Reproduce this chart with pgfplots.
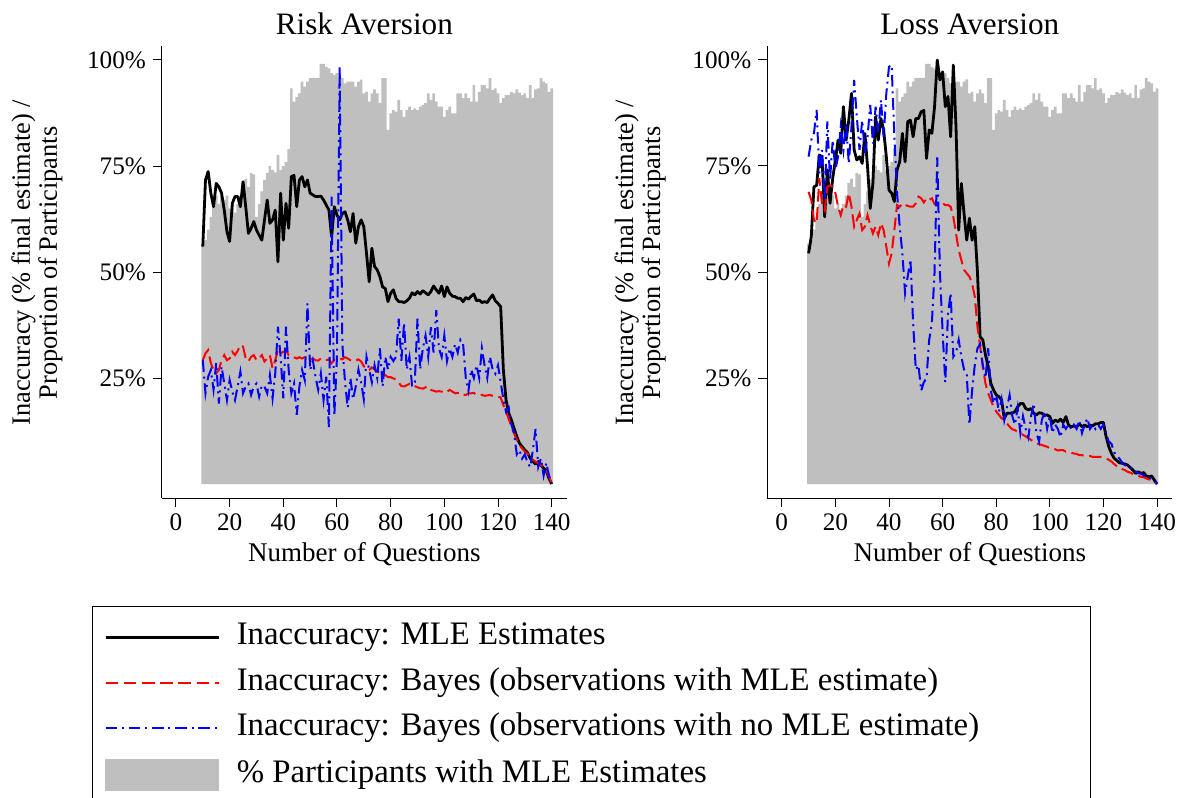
\documentclass[border=0pt]{standalone}
\usepackage{fontspec}
\setmainfont{Liberation Serif}
\usepackage{pgfplots}
\usepackage{pgfplotstable}
\pgfplotsset{compat=1.18}
\definecolor{barfill}{RGB}{191,191,191}

\pgfplotstableread{
q g
10 0.567
11 0.575
12 0.600
13 0.630
14 0.660
15 0.680
16 0.660
17 0.690
18 0.670
19 0.680
20 0.650
21 0.660
22 0.640
23 0.660
24 0.680
25 0.710
26 0.720
27 0.700
28 0.733
29 0.730
30 0.630
31 0.660
32 0.690
33 0.717
34 0.733
35 0.750
36 0.740
37 0.735
38 0.776
39 0.740
40 0.750
41 0.760
42 0.790
43 0.933
44 0.902
45 0.913
46 0.921
47 0.949
48 0.937
49 0.949
50 0.957
51 0.958
52 0.958
53 0.958
54 0.991
55 0.991
56 0.984
57 0.980
58 0.969
59 0.965
60 0.969
61 0.969
62 0.957
63 0.945
64 0.949
65 0.949
66 0.949
67 0.937
68 0.949
69 0.954
70 0.921
71 0.925
72 0.902
73 0.921
74 0.931
75 0.921
76 0.898
77 0.957
78 0.957
79 0.835
80 0.874
81 0.882
82 0.878
83 0.906
84 0.882
85 0.866
86 0.882
87 0.890
88 0.882
89 0.886
90 0.882
91 0.890
92 0.894
93 0.898
94 0.921
95 0.906
96 0.921
97 0.902
98 0.890
99 0.890
100 0.866
101 0.882
102 0.890
103 0.874
104 0.874
105 0.921
106 0.921
107 0.910
108 0.921
109 0.910
110 0.902
111 0.941
112 0.902
113 0.925
114 0.941
115 0.941
116 0.933
117 0.957
118 0.929
119 0.933
120 0.921
121 0.899
122 0.910
123 0.917
124 0.917
125 0.925
126 0.921
127 0.931
128 0.923
129 0.917
130 0.921
131 0.910
132 0.941
133 0.910
134 0.931
135 0.933
136 0.957
137 0.949
138 0.945
139 0.925
140 0.933
141 0.933
}\sharetab

\pgfplotstableread{
q mle bm bn
10 0.560 0.292 0.292
11 0.717 0.308 0.214
12 0.737 0.316 0.253
13 0.686 0.285 0.269
14 0.654 0.269 0.222
15 0.709 0.261 0.285
16 0.701 0.269 0.190
17 0.686 0.292 0.277
18 0.646 0.304 0.237
19 0.595 0.292 0.198
20 0.572 0.296 0.245
21 0.662 0.312 0.218
22 0.678 0.304 0.198
23 0.678 0.314 0.230
24 0.654 0.328 0.265
25 0.713 0.324 0.214
26 0.654 0.296 0.230
27 0.591 0.289 0.237
28 0.603 0.300 0.210
29 0.619 0.304 0.230
30 0.599 0.292 0.237
31 0.587 0.296 0.206
32 0.575 0.304 0.233
33 0.623 0.289 0.230
34 0.670 0.296 0.214
35 0.615 0.304 0.257
36 0.623 0.273 0.202
37 0.646 0.292 0.261
38 0.524 0.316 0.371
39 0.686 0.308 0.300
40 0.575 0.312 0.202
41 0.662 0.316 0.371
42 0.603 0.304 0.269
43 0.725 0.304 0.214
44 0.728 0.299 0.237
45 0.654 0.296 0.163
46 0.717 0.299 0.230
47 0.725 0.296 0.269
48 0.701 0.299 0.245
49 0.717 0.292 0.426
50 0.686 0.294 0.269
51 0.682 0.296 0.292
52 0.678 0.292 0.253
53 0.678 0.291 0.222
54 0.679 0.296 0.261
55 0.670 0.292 0.198
56 0.658 0.292 0.253
57 0.646 0.294 0.134
58 0.583 0.285 0.678
59 0.654 0.292 0.160
60 0.634 0.292 0.300
61 0.623 0.296 0.985
62 0.638 0.294 0.330
63 0.642 0.299 0.240
64 0.623 0.296 0.180
65 0.595 0.292 0.250
66 0.638 0.289 0.200
67 0.568 0.291 0.230
68 0.607 0.294 0.270
69 0.623 0.289 0.240
70 0.607 0.278 0.200
71 0.544 0.270 0.300
72 0.477 0.269 0.270
73 0.556 0.275 0.240
74 0.513 0.270 0.280
75 0.505 0.265 0.250
76 0.489 0.262 0.320
77 0.465 0.259 0.230
78 0.461 0.257 0.300
79 0.430 0.252 0.270
80 0.450 0.252 0.300
81 0.458 0.249 0.290
82 0.438 0.247 0.300
83 0.430 0.239 0.390
84 0.430 0.231 0.290
85 0.428 0.230 0.380
86 0.432 0.233 0.270
87 0.438 0.236 0.300
88 0.451 0.236 0.230
89 0.446 0.231 0.240
90 0.454 0.228 0.390
91 0.448 0.226 0.270
92 0.456 0.225 0.320
93 0.451 0.228 0.350
94 0.446 0.230 0.300
95 0.454 0.222 0.370
96 0.467 0.220 0.310
97 0.458 0.218 0.410
98 0.450 0.219 0.320
99 0.467 0.218 0.300
100 0.442 0.215 0.350
101 0.465 0.218 0.290
102 0.450 0.222 0.320
103 0.443 0.218 0.300
104 0.442 0.214 0.330
105 0.438 0.215 0.310
106 0.438 0.215 0.340
107 0.430 0.210 0.330
108 0.440 0.210 0.250
109 0.436 0.214 0.220
110 0.443 0.214 0.270
111 0.448 0.215 0.250
112 0.432 0.210 0.280
113 0.434 0.210 0.250
114 0.428 0.210 0.320
115 0.430 0.208 0.280
116 0.428 0.209 0.250
117 0.438 0.210 0.300
118 0.446 0.208 0.270
119 0.432 0.206 0.260
120 0.426 0.206 0.280
121 0.418 0.204 0.240
122 0.269 0.186 0.200
123 0.198 0.171 0.170
124 0.167 0.153 0.180
125 0.151 0.135 0.140
126 0.131 0.119 0.120
127 0.112 0.104 0.070
128 0.096 0.092 0.080
129 0.088 0.084 0.060
130 0.080 0.076 0.070
131 0.074 0.072 0.050
132 0.061 0.064 0.040
133 0.053 0.057 0.080
134 0.047 0.053 0.130
135 0.053 0.049 0.040
136 0.045 0.045 0.060
137 0.037 0.039 0.020
138 0.031 0.033 0.050
139 0.013 0.017 0.020
140 0.000 0.002 0.000
}\risktab

\pgfplotstableread{
q mle bm bn
10 0.544 0.689 0.772
11 0.583 0.670 0.811
12 0.701 0.623 0.827
13 0.704 0.615 0.882
14 0.776 0.721 0.733
15 0.772 0.662 0.788
16 0.630 0.646 0.670
17 0.741 0.701 0.855
18 0.662 0.704 0.717
19 0.721 0.701 0.811
20 0.764 0.686 0.741
21 0.811 0.654 0.772
22 0.780 0.634 0.843
23 0.890 0.658 0.788
24 0.811 0.654 0.851
25 0.858 0.686 0.756
26 0.921 0.654 0.843
27 0.788 0.607 0.953
28 0.764 0.623 0.866
29 0.772 0.638 0.788
30 0.756 0.599 0.858
31 0.827 0.607 0.780
32 0.748 0.634 0.819
33 0.650 0.611 0.894
34 0.709 0.591 0.803
35 0.866 0.607 0.890
36 0.811 0.587 0.831
37 0.862 0.615 0.906
38 0.835 0.599 0.819
39 0.772 0.560 0.921
40 0.693 0.520 0.984
41 0.686 0.544 0.988
42 0.666 0.599 0.819
43 0.741 0.658 0.686
44 0.760 0.654 0.607
45 0.827 0.662 0.544
46 0.760 0.658 0.450
47 0.855 0.656 0.490
48 0.858 0.654 0.530
49 0.819 0.654 0.380
50 0.862 0.662 0.270
51 0.862 0.678 0.280
52 0.878 0.674 0.220
53 0.881 0.664 0.240
54 0.768 0.674 0.250
55 0.835 0.670 0.340
56 0.827 0.674 0.380
57 0.890 0.660 0.500
58 1.000 0.662 0.770
59 0.953 0.664 0.500
60 0.972 0.662 0.360
61 0.890 0.658 0.240
62 0.914 0.658 0.400
63 0.819 0.654 0.450
64 0.988 0.630 0.300
65 0.843 0.591 0.310
66 0.599 0.552 0.340
67 0.709 0.528 0.300
68 0.638 0.505 0.270
69 0.575 0.497 0.260
70 0.627 0.489 0.140
71 0.575 0.473 0.220
72 0.607 0.442 0.280
73 0.500 0.371 0.320
74 0.347 0.324 0.330
75 0.340 0.277 0.280
76 0.304 0.237 0.250
77 0.277 0.214 0.320
78 0.237 0.198 0.220
79 0.222 0.182 0.190
80 0.210 0.171 0.210
81 0.206 0.163 0.170
82 0.198 0.155 0.200
83 0.155 0.151 0.150
84 0.167 0.143 0.180
85 0.167 0.135 0.210
86 0.167 0.129 0.160
87 0.171 0.127 0.140
88 0.182 0.123 0.180
89 0.190 0.119 0.120
90 0.190 0.116 0.160
91 0.178 0.112 0.130
92 0.175 0.108 0.110
93 0.178 0.104 0.160
94 0.167 0.100 0.190
95 0.163 0.096 0.120
96 0.168 0.094 0.100
97 0.167 0.092 0.150
98 0.163 0.090 0.170
99 0.163 0.088 0.130
100 0.159 0.084 0.160
101 0.143 0.084 0.120
102 0.151 0.082 0.140
103 0.147 0.079 0.130
104 0.153 0.080 0.110
105 0.145 0.080 0.140
106 0.159 0.076 0.130
107 0.139 0.074 0.140
108 0.135 0.074 0.130
109 0.137 0.072 0.140
110 0.135 0.071 0.130
111 0.142 0.068 0.150
112 0.135 0.068 0.120
113 0.139 0.066 0.140
114 0.135 0.066 0.155
115 0.139 0.066 0.130
116 0.137 0.064 0.140
117 0.142 0.064 0.130
118 0.142 0.064 0.140
119 0.145 0.064 0.130
120 0.145 0.063 0.140
121 0.112 0.061 0.120
122 0.088 0.057 0.100
123 0.072 0.053 0.095
124 0.061 0.047 0.075
125 0.055 0.042 0.065
126 0.050 0.037 0.060
127 0.049 0.035 0.050
128 0.047 0.033 0.045
129 0.045 0.029 0.040
130 0.039 0.027 0.040
131 0.033 0.024 0.030
132 0.025 0.021 0.030
133 0.029 0.019 0.025
134 0.025 0.017 0.025
135 0.027 0.016 0.020
136 0.019 0.013 0.018
137 0.017 0.011 0.015
138 0.019 0.009 0.012
139 0.009 0.006 0.008
140 0.000 0.000 0.000
}\losstab

\pgfplotsset{
  panel/.style={
    scale only axis, height=226pt,
    ymin=-0.033, ymax=1.033,
    axis lines=left,
    axis line style={-, line width=0.5pt, black},
    tick align=outside,
    major tick length=4.5pt,
    tick style={line width=0.5pt, black},
    xtick={0,20,...,140},
    ytick={0.25,0.5,0.75,1},
    yticklabels={25\%,50\%,75\%,100\%},
    minor tick num=0,
    tick label style={font=\fontsize{12.6}{14}\selectfont},
    /pgf/number format/assume math mode=true,
    xlabel={Number of Questions},
    xlabel style={font=\fontsize{13.5}{15}\selectfont, at={(axis description cs:0.5,-0.1394)}, anchor=base},
    ylabel={Inaccuracy (\% final estimate) /\\Proportion of Participants},
    ylabel style={font=\fontsize{13.2}{13.5}\selectfont, align=center, anchor=center},
    every axis title shift=0pt,
    title style={font=\fontsize{15.6}{18}\selectfont, at={(axis description cs:0.5,1.0265)}, anchor=base, yshift=0pt},
  },
  mleline/.style={black, line width=1.4pt, line join=round},
  bmline/.style={red, line width=1pt, dash pattern=on 6.3pt off 2.8pt},
  bnline/.style={blue, line width=1pt, dash pattern=on 5.8pt off 2.4pt on 1pt off 2.4pt},
}

\begin{document}
\begin{tikzpicture}
\begin{axis}[panel,
  at={(81pt,-249pt)}, anchor=south west,
  width=202.35pt, xmin=-5.2, xmax=145.6,
  title={Risk Aversion},
  ylabel style={at={(axis description cs:-0.309,0.52)}},
  legend style={at={(axis description cs:-0.1737,-0.2383)}, anchor=north west,
    draw=black, line width=0.5pt, inner xsep=6pt, inner ysep=7.75pt,
    row sep=7.3pt, column sep=8.4pt,
    nodes={inner sep=0pt, text height=11.5pt, text depth=4pt},
    font=\fontsize{16.4}{18}\selectfont},
  legend cell align=left,
]
\addlegendimage{legend image code/.code={\draw[black, line width=1.4pt] (0pt,0pt) -- (56.5pt,0pt);}}
\addlegendentry{Inaccuracy: MLE Estimates}
\addlegendimage{legend image code/.code={\draw[red, line width=1pt, dash pattern=on 6.3pt off 2.8pt] (0pt,0pt) -- (56.5pt,0pt);}}
\addlegendentry{Inaccuracy: Bayes (observations with MLE estimate)}
\addlegendimage{legend image code/.code={\draw[blue, line width=1pt, dash pattern=on 5.8pt off 2.4pt on 1pt off 2.4pt] (0pt,0pt) -- (56.5pt,0pt);}}
\addlegendentry{Inaccuracy: Bayes (observations with no MLE estimate)\hspace*{49.5pt}}
\addlegendimage{legend image code/.code={\fill[barfill] (0pt,-7.75pt) rectangle (56.5pt,7.75pt);}}
\addlegendentry{\% Participants with MLE Estimates}
\addplot[fill=barfill, draw=none, const plot mark left, forget plot] table[x expr=\thisrow{q}-0.5, y=g] {\sharetab} \closedcycle;
\addplot[mleline, forget plot] table[x=q, y=mle] {\risktab};
\addplot[bmline, forget plot] table[x=q, y=bm] {\risktab};
\addplot[bnline, forget plot] table[x=q, y=bn] {\risktab};
\end{axis}
\begin{axis}[panel,
  at={(383.65pt,-249pt)}, anchor=south west,
  width=202.5pt, xmin=-5.4, xmax=145.7,
  title={Loss Aversion},
  ylabel style={at={(axis description cs:-0.314,0.52)}},
]
\addplot[fill=barfill, draw=none, const plot mark left] table[x expr=\thisrow{q}-0.5, y=g] {\sharetab} \closedcycle;
\addplot[mleline] table[x=q, y=mle] {\losstab};
\addplot[bmline] table[x=q, y=bm] {\losstab};
\addplot[bnline] table[x=q, y=bn] {\losstab};
\end{axis}
\pgfresetboundingbox
\useasboundingbox (0pt,0pt) rectangle (591pt,-398.5pt);
\end{tikzpicture}
\end{document}
